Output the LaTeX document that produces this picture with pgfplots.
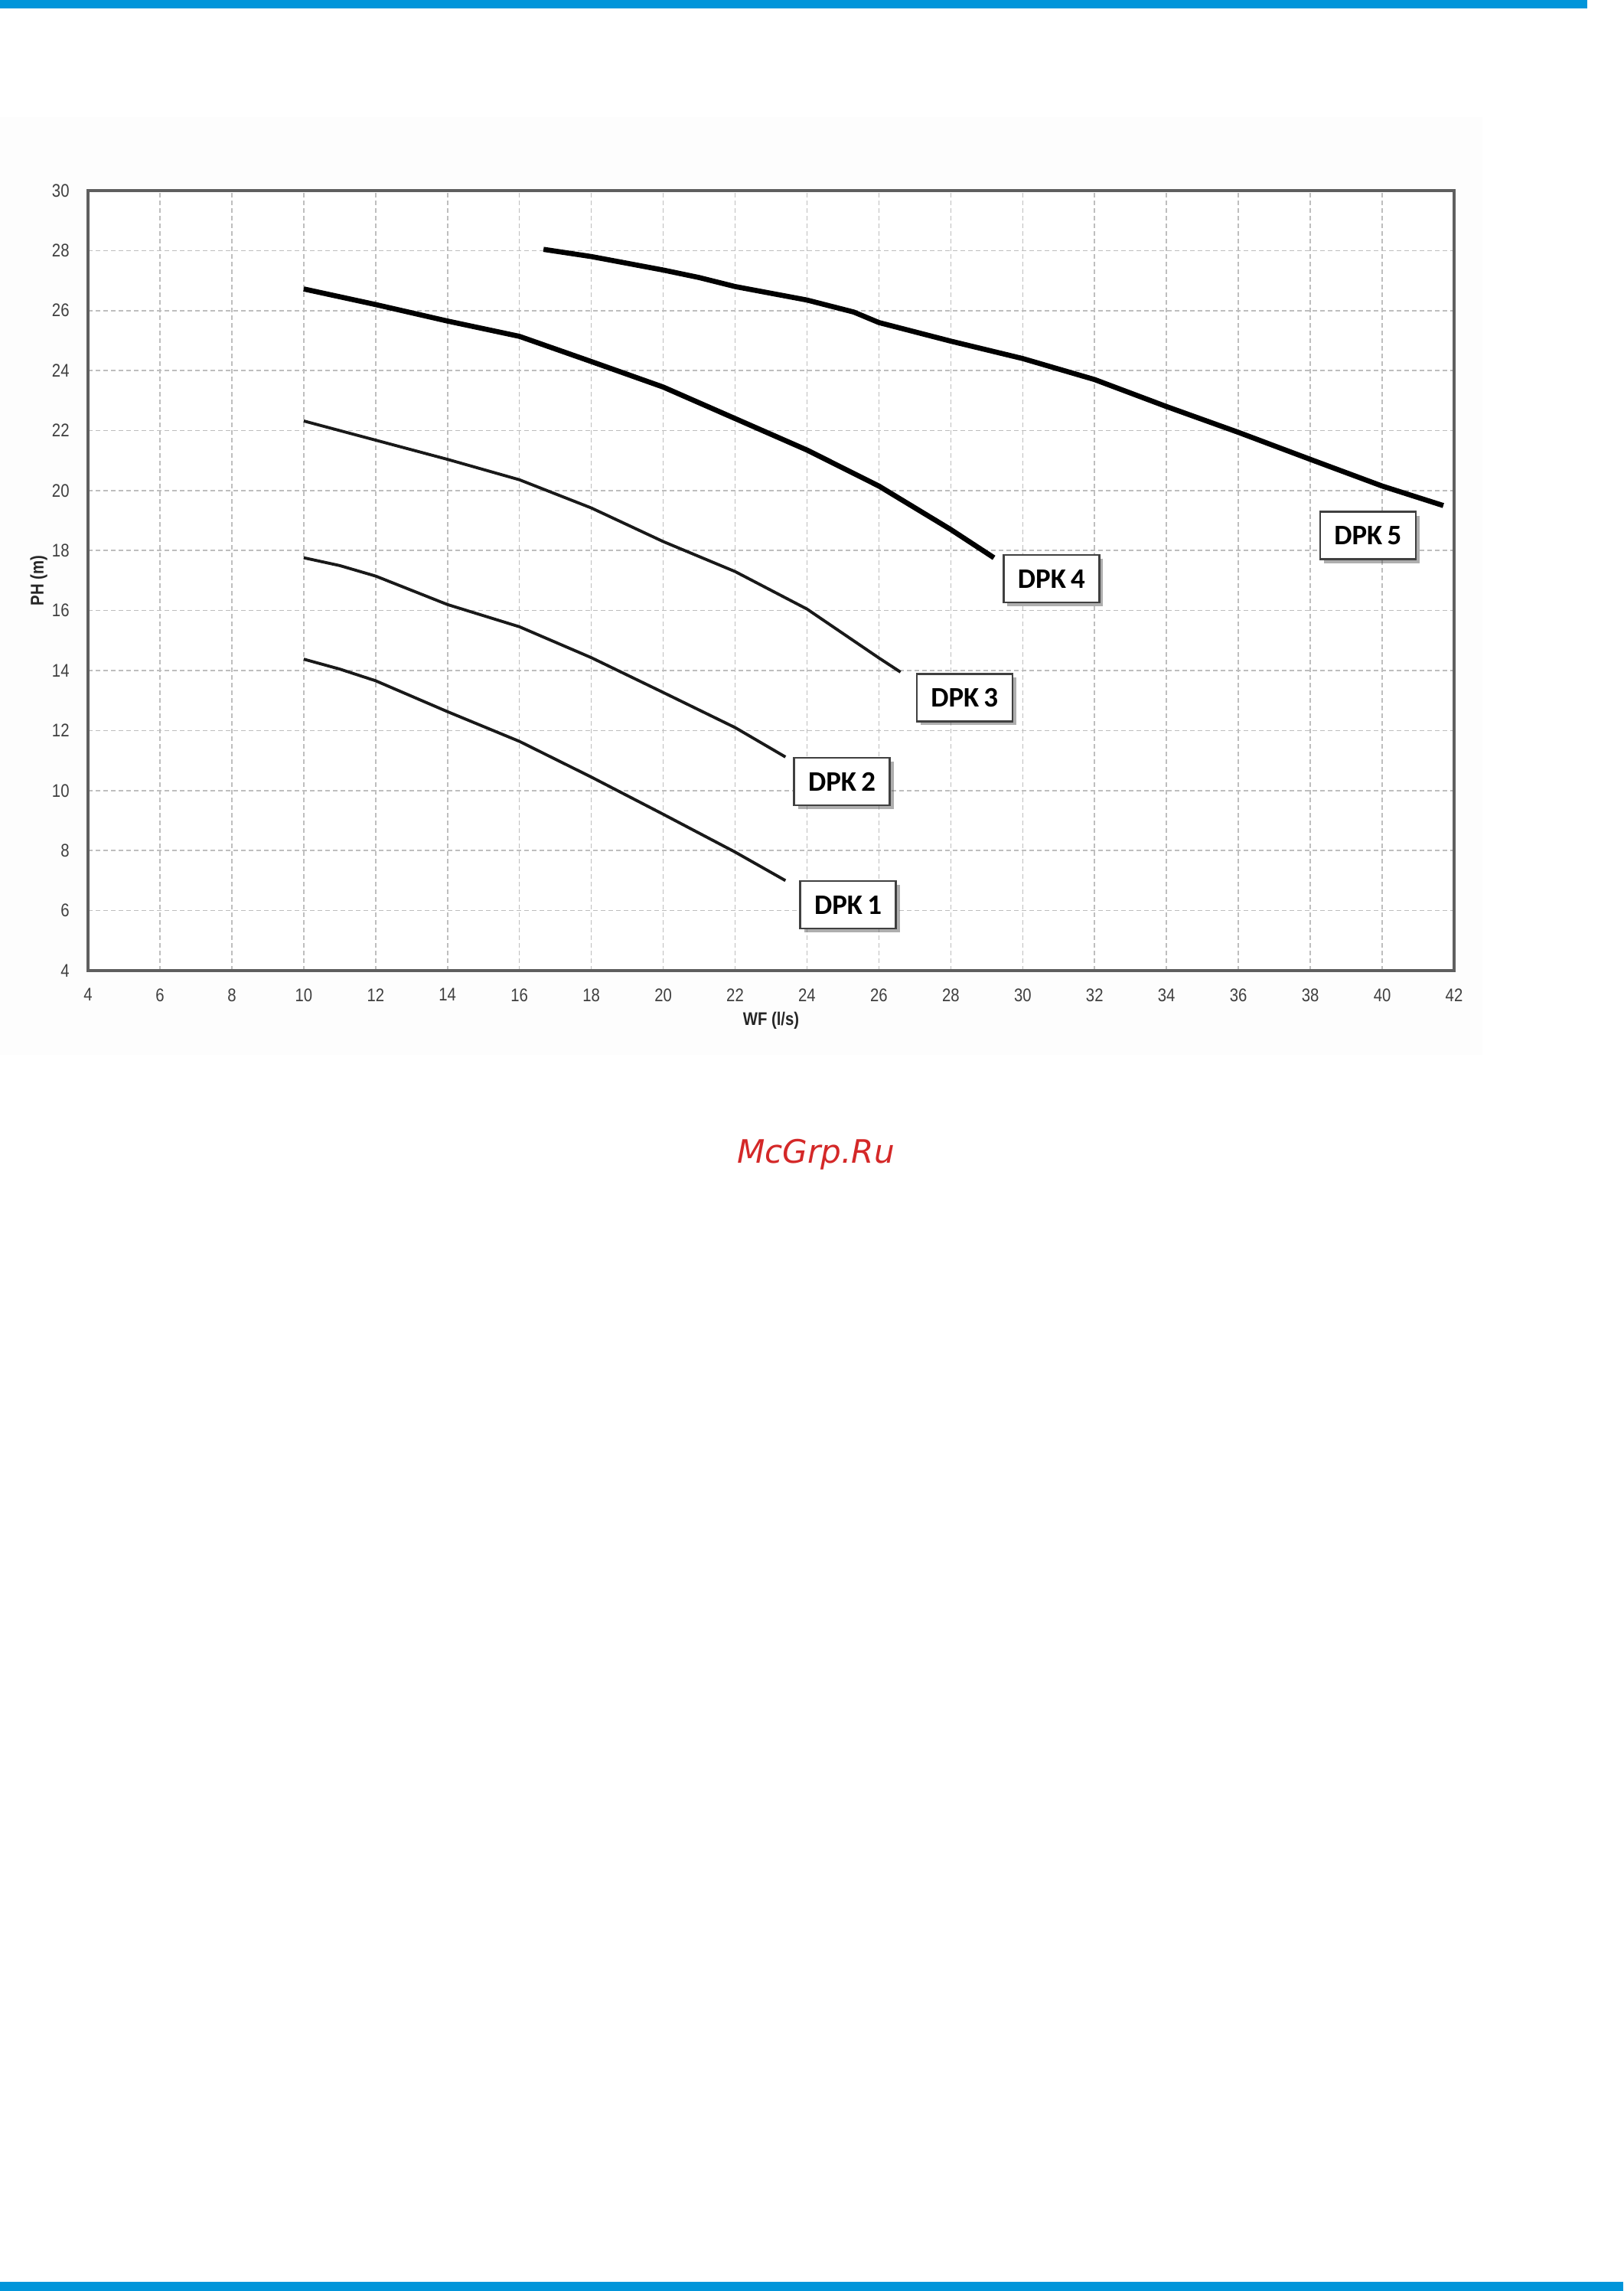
\documentclass[border=0pt]{standalone}
\usepackage{pgfplots}
\pgfplotsset{compat=1.18}
\usepackage{fontspec}
\setmainfont{Liberation Sans}
\newfontfamily\ticknarrow[FakeStretch=0.85]{Liberation Sans}
\newfontfamily\boxfont{Carlito}
\newfontfamily\wmfont{DejaVu Sans Oblique}
\usetikzlibrary{shadows}

\definecolor{barblue}{RGB}{0,149,218}
\definecolor{wmred}{RGB}{212,40,40}
\definecolor{axisgray}{RGB}{95,95,95}
\definecolor{gridgray}{RGB}{190,190,190}

\begin{document}
\begin{tikzpicture}[x=1mm,y=1mm]
% page frame: 1 px of the source = 0.1 mm
\path[use as bounding box] (0,0) rectangle (212.1,299.3);
\fill[barblue] (0,298.2) rectangle (207.4,299.3);
\fill[barblue] (0,0) rectangle (212.1,1.2);
\fill[black!0.8] (0,161.5) rectangle (193.7,284);

\begin{axis}[
    at={(11.5mm,172.5mm)}, anchor=south west,
    scale only axis, width=178.5mm, height=101.9mm,
    xmin=4, xmax=42, ymin=4, ymax=30,
    xtick={4,6,...,42}, ytick={4,6,...,30},
    major tick length=0pt,
    axis line style={axisgray, line width=0.9pt},
    grid=major,
    major grid style={gridgray, line width=0.45pt, dash pattern=on 0.55mm off 0.45mm},
    axis background/.style={fill=white},
    /pgf/number format/assume math mode=true,
    ticklabel style={font=\ticknarrow\fontsize{6.8}{7}\selectfont, text=black!75},
    xticklabel style={yshift=-1.1mm},
    yticklabel style={xshift=-1.2mm},
    xlabel={WF (l/s)}, ylabel={PH (m)},
    xlabel style={at={(axis description cs:0.5,-0.064)}, anchor=center,
        font=\ticknarrow\bfseries\fontsize{6.8}{8}\selectfont, text=black!85},
    ylabel style={at={(axis description cs:-0.036,0.5)}, anchor=center,
        font=\ticknarrow\bfseries\fontsize{6.8}{8}\selectfont, text=black!85},
    clip=false,
]

% DPK 1
\addplot[black!90, line width=1.1pt, line join=round] coordinates {
    (10,14.38) (11,14.05) (12,13.66) (14,12.63) (16,11.64) (18,10.45)
    (20,9.21) (22,7.95) (23.4,7.0)
};
% DPK 2
\addplot[black!90, line width=1.1pt, line join=round] coordinates {
    (10,17.76) (11,17.5) (12,17.15) (14,16.2) (16,15.46) (18,14.43)
    (20,13.27) (22,12.1) (23.4,11.12)
};
% DPK 3
\addplot[black!90, line width=1.1pt, line join=round] coordinates {
    (10,22.32) (12,21.68) (14,21.04) (16,20.36) (18,19.42) (20,18.3)
    (22,17.3) (24,16.05) (26,14.42) (26.6,13.95)
};
% DPK 4
\addplot[black, line width=1.9pt, line join=round] coordinates {
    (10,26.72) (12,26.2) (14,25.65) (16,25.14) (18,24.3) (20,23.45)
    (22,22.4) (24,21.35) (26,20.15) (28,18.7) (29.2,17.76)
};
% DPK 5
\addplot[black, line width=1.9pt, line join=round] coordinates {
    (16.67,28.04) (18,27.8) (20,27.35) (21,27.1) (22,26.8) (24,26.35)
    (25.3,25.95) (26,25.6) (28,24.98) (30,24.4) (32,23.7) (34,22.8)
    (36,21.94) (38,21.04) (40,20.15) (41.7,19.5)
};

\tikzset{dpkbox/.style={draw=black!75, line width=0.7pt, fill=white,
    minimum width=12.5mm, minimum height=6.2mm, inner sep=0pt,
    drop shadow={shadow xshift=0.5mm, shadow yshift=-0.5mm, opacity=0.45, fill=black!70},
    font=\boxfont\bfseries\fontsize{10.5}{12}\selectfont}}
\node[dpkbox] at (axis cs:25.14,6.19) {DPK\,1};
\node[dpkbox] at (axis cs:24.97,10.3) {DPK\,2};
\node[dpkbox] at (axis cs:28.38,13.1) {DPK\,3};
\node[dpkbox] at (axis cs:30.8,17.06) {DPK\,4};
\node[dpkbox] at (axis cs:39.6,18.5) {DPK\,5};
\end{axis}

\node[anchor=base, font=\wmfont\fontsize{12}{14}\selectfont, text=wmred] at (106.6,147.3) {McGrp.Ru};
\end{tikzpicture}
\end{document}
